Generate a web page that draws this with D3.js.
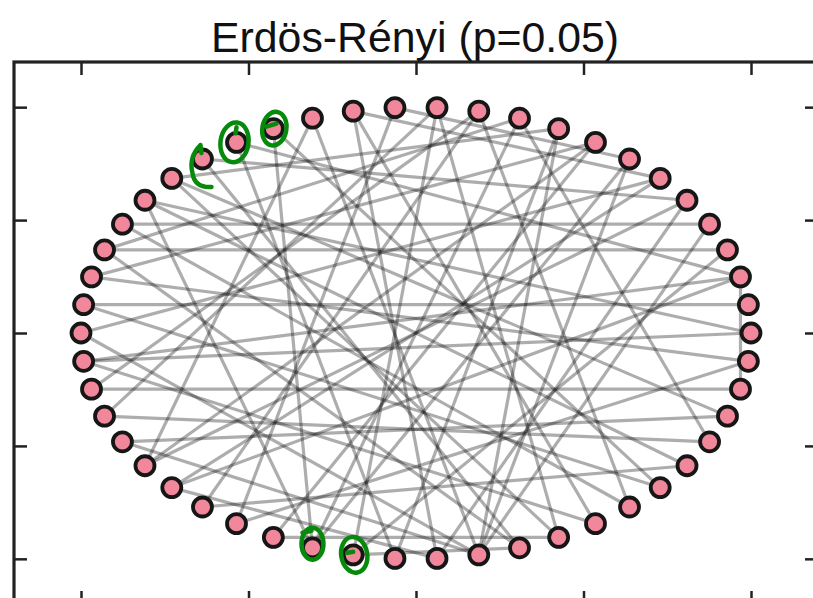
<!DOCTYPE html>
<html>
<head>
<meta charset="utf-8">
<script src="https://cdn.jsdelivr.net/npm/d3@7"></script>
<style>
  body { margin: 0; background: #fff; }
  svg { display: block; }
</style>
</head>
<body>
<figure style="margin:0"></figure>
<script>
// graph data: 50 nodes on a circular layout, edges
var title = "Erdös-Rényi (p=0.05)";
var nodeCount = 50;
var edges = [
  [1, 24], [3, 22], [4, 21], [29, 47], [2, 26], [13, 7],
  [12, 36], [12, 28], [12, 41], [13, 33], [14, 6], [14, 38],
  [15, 39], [15, 30], [16, 44], [16, 35], [17, 2], [17, 37],
  [18, 5], [18, 40], [19, 47], [19, 9], [20, 45], [20, 35],
  [21, 43], [22, 10], [23, 49], [23, 8], [24, 44], [25, 6],
  [25, 39], [26, 0], [26, 42], [27, 48], [27, 11], [28, 46],
  [29, 39], [30, 5], [31, 2], [31, 38], [32, 45], [32, 11],
  [34, 8], [34, 41], [35, 7], [35, 10], [36, 40], [37, 9],
  [38, 5], [39, 9], [39, 4], [39, 7], [40, 22], [41, 19],
  [42, 14], [46, 10], [2, 48], [49, 33], [8, 30], [11, 43],
  [6, 31], [3, 36], [0, 20]
];
var xTicks = [-1, -0.5, 0, 0.5, 1];
var yTicks = [-1, -0.5, 0, 0.5, 1];

var width = 813, height = 598;

var svg = d3.select("figure").append("svg")
    .attr("width", width)
    .attr("height", height);

// soft look of the scanned picture
svg.append("defs").append("filter")
    .attr("id", "soft")
  .append("feGaussianBlur")
    .attr("stdDeviation", 0.6);

// axes limits are [-1.2, 1.2] like matplotlib gives for circular_layout
var x = d3.scaleLinear().domain([-1.2, 1.2]).range([14, 818]);
var y = d3.scaleLinear().domain([-1.2, 1.2]).range([604, 62]);

// circular layout, node i at angle 2*pi*i/n
var nodes = d3.range(nodeCount).map(function(i) {
  var a = 2 * Math.PI * i / nodeCount;
  return {id: i, px: Math.cos(a), py: Math.sin(a)};
});

// title
svg.append("text")
    .attr("x", 415)
    .attr("y", 52)
    .attr("text-anchor", "middle")
    .attr("font-family", "Liberation Sans, Arial, Helvetica, sans-serif")
    .attr("font-size", 42)
    .attr("textLength", 408)
    .attr("lengthAdjust", "spacingAndGlyphs")
    .attr("fill", "#111")
    .text(title);

// edges
svg.append("g")
    .attr("class", "edges")
    .attr("filter", "url(#soft)")
  .selectAll("line")
  .data(edges)
  .enter().append("line")
    .attr("x1", function(d) { return x(nodes[d[0]].px); })
    .attr("y1", function(d) { return y(nodes[d[0]].py); })
    .attr("x2", function(d) { return x(nodes[d[1]].px); })
    .attr("y2", function(d) { return y(nodes[d[1]].py); })
    .attr("stroke", "#000")
    .attr("stroke-opacity", 0.32)
    .attr("stroke-width", 3.2);

// nodes
svg.append("g")
    .attr("class", "nodes")
    .attr("filter", "url(#soft)")
  .selectAll("circle")
  .data(nodes)
  .enter().append("circle")
    .attr("cx", function(d) { return x(d.px); })
    .attr("cy", function(d) { return y(d.py); })
    .attr("r", 9.5)
    .attr("fill", "#f0879a")
    .attr("stroke", "#161616")
    .attr("stroke-width", 3.8);

// frame and inward ticks
var frame = svg.append("g").attr("class", "frame");

frame.append("g")
    .attr("transform", "translate(0," + y(1.2) + ")")
    .call(d3.axisTop(x).tickValues(xTicks).tickSize(-13).tickFormat(""));
frame.append("g")
    .attr("transform", "translate(0," + y(-1.2) + ")")
    .call(d3.axisBottom(x).tickValues(xTicks).tickSize(-13).tickFormat(""));
frame.append("g")
    .attr("transform", "translate(" + x(-1.2) + ",0)")
    .call(d3.axisLeft(y).tickValues(yTicks).tickSize(-13).tickFormat(""));
frame.append("g")
    .attr("transform", "translate(" + x(1.2) + ",0)")
    .call(d3.axisRight(y).tickValues(yTicks).tickSize(-13).tickFormat(""));

frame.selectAll(".domain").remove();
frame.selectAll(".tick line")
    .attr("stroke", "#222")
    .attr("stroke-width", 2.5);

frame.append("rect")
    .attr("x", x(-1.2))
    .attr("y", y(1.2))
    .attr("width", x(1.2) - x(-1.2))
    .attr("height", y(-1.2) - y(1.2))
    .attr("fill", "none")
    .attr("stroke", "#222")
    .attr("stroke-width", 3.2);

// hand-drawn green marks around some nodes
var marks = svg.append("g")
    .attr("class", "marks")
    .attr("fill", "none")
    .attr("stroke", "#078a0c")
    .attr("stroke-width", 4.5)
    .attr("stroke-linecap", "round")
    .attr("stroke-linejoin", "round");

function nx(i) { return x(nodes[i].px); }
function ny(i) { return y(nodes[i].py); }

// bracket beside node 18
marks.append("path")
    .attr("d", "M" + (nx(18) - 1) + "," + (ny(18) - 6) +
               " L" + (nx(18) - 2) + "," + (ny(18) - 14) +
               " Q" + (nx(18) - 14) + "," + (ny(18) - 2) + " " + (nx(18) - 10) + "," + (ny(18) + 14) +
               " Q" + (nx(18) - 8) + "," + (ny(18) + 29) + " " + (nx(18) + 9) + "," + (ny(18) + 28));

// loops round nodes 17, 16, 35, 36
[[17, -2, 0, 14, 20, 8], [16, 1, 0, 12, 17, 10], [35, 0, -4, 11, 16, 0], [36, 1, 0, 13, 18, -10]]
  .forEach(function(m) {
    var cx = nx(m[0]) + m[1], cy = ny(m[0]) + m[2];
    marks.append("ellipse")
        .attr("cx", cx).attr("cy", cy)
        .attr("rx", m[3]).attr("ry", m[4])
        .attr("transform", "rotate(" + m[5] + "," + cx + "," + cy + ")");
  });

// little ticks inside the loops
marks.append("path").attr("d", "M" + (nx(17) - 1) + "," + (ny(17) - 9) + " l1,-6");
marks.append("path").attr("d", "M" + (nx(16) - 7) + "," + (ny(16) - 2) + " l10,-3");
marks.append("path").attr("d", "M" + (nx(35) - 10) + "," + (ny(35) - 15) + " l9,-2");
marks.append("path").attr("d", "M" + (nx(36) - 6) + "," + (ny(36) - 2) + " l6,-1");
</script>
</body>
</html>
